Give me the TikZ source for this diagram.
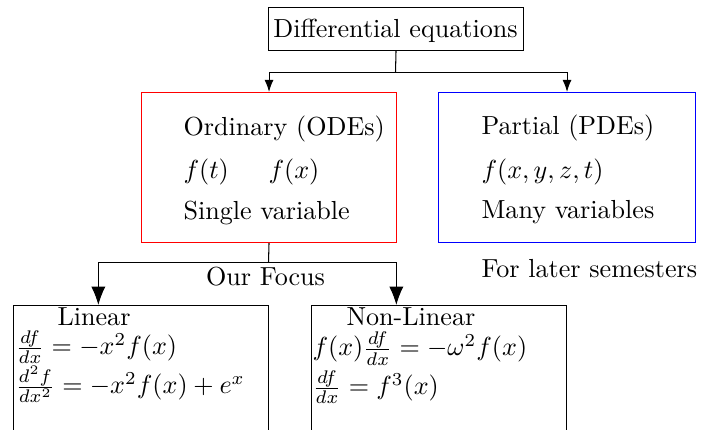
\documentclass[tikz,border=0pt]{standalone}
\usetikzlibrary{arrows.meta,calc}
\newcommand\pxl{0.383pt}
\begin{document}
\begin{tikzpicture}[x=0.383pt,y=-0.383pt,
  box/.style={draw,line width=0.4pt,rectangle,inner sep=0pt,anchor=north west},
  txt/.style={anchor=base west,inner sep=0pt},
  ctxt/.style={anchor=base,inner sep=0pt},
  conn/.style={line width=0.4pt},
  smallarrow/.style={conn,-{Latex[length=4.6pt,width=3.4pt]}},
  bigarrow/.style={conn,-{Latex[length=7pt,width=5.4pt]}}]
\clip (0,0) rectangle (702,430);
% boxes
\node[box,minimum width=255*\pxl,minimum height=43*\pxl] (top) at (268,7) {};
\node[box,draw=red,minimum width=255*\pxl,minimum height=150*\pxl] (ode) at (141,92) {};
\node[box,draw=blue,minimum width=257*\pxl,minimum height=150*\pxl] (pde) at (438,92) {};
\node[box,minimum width=255*\pxl,minimum height=160*\pxl] (lin) at (13,305) {};
\node[box,minimum width=255*\pxl,minimum height=160*\pxl] (nonlin) at (311,305) {};
% texts
\node[ctxt] (toptext) at (395.5,38) {Differential equations};
\node[txt] (odet1) at (183,136) {Ordinary (ODEs)};
\node[txt] (odet2) at (183,179) {$f(t)$};
\node[txt] (odet3) at (268,179) {$f(x)$};
\node[txt] (odet4) at (183,220) {Single variable};
\node[txt] (pdet1) at (481,135) {Partial (PDEs)};
\node[txt] (pdet2) at (481,179) {$f(x,y,z,t)$};
\node[txt] (pdet3) at (481,219) {Many variables};
\node[txt] (later) at (481,278) {For later semesters};
\node[ctxt] (focus) at (265.5,286) {Our Focus};
\node[txt] (lint) at (57,326) {Linear};
\node[txt] (lin1) at (15,355) {$\frac{df}{dx} = -x^2 f(x)$};
\node[txt] (lin2) at (15,394) {$\frac{d^2f}{dx^2} = -x^2 f(x) + e^x$};
\node[txt] (nlt) at (346,326) {Non-Linear};
\node[txt] (nl1) at (312,356) {$f(x)\frac{df}{dx} = -\omega^2 f(x)$};
\node[txt] (nl2) at (312,395) {$\frac{df}{dx} = f^3(x)$};
% connectors
\coordinate (j1) at (395.5,72.5);
\draw[conn] (top.south) -- (j1);
\draw[smallarrow] (j1) -| (ode.north);
\draw[smallarrow] (j1) -| (pde.north);
\coordinate (j2) at (268.5,262.5);
\coordinate (t1) at ($(lin.north west)!1/3!(lin.north east)$);
\coordinate (t2) at ($(nonlin.north west)!1/3!(nonlin.north east)$);
\draw[conn] (ode.south) -- (j2);
\draw[bigarrow] (j2) -| (t1);
\draw[bigarrow] (j2) -| (t2);
\end{tikzpicture}
\end{document}
